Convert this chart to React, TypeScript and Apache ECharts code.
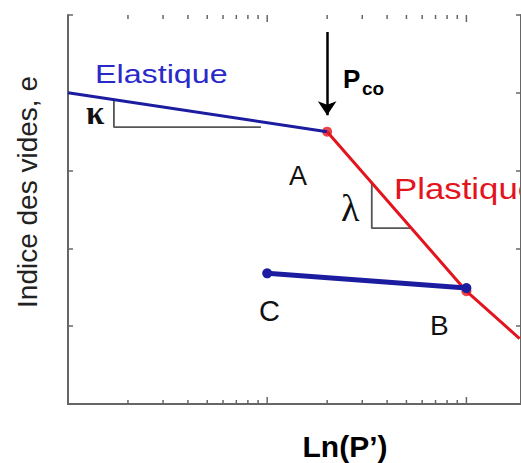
import React, { useEffect, useRef } from "react";
import * as echarts from "echarts";

// Void ratio e against effective pressure P' (log scale): loading / unloading paths
const elasticP = [1, 20];
const elasticE = [4.0, 3.5];

const plasticP = [20, 100, 185];
const plasticE = [3.5, 1.45, 0.84];

const unloadP = [10, 100];
const unloadE = [1.68, 1.49];

const yieldP = [20, 100]; // points A and B on the virgin line
const yieldE = [3.5, 1.45];

const kappaP = [1.7, 1.7, 9.3];
const kappaE = [3.91, 3.56, 3.56];

const lambdaP = [33.5, 33.5, 53];
const lambdaE = [2.84, 2.26, 2.26];

const arrowP = [20, 20];
const arrowE = [4.78, 3.71];

const majorTicks = [10, 100];
const minorTicks = [2, 3, 4, 5, 6, 7, 8, 9, 20, 30, 40, 50, 60, 70, 80, 90];

const X_MIN = 1;
const X_MAX = 188;
const Y_MIN = 0;
const Y_MAX = 5;

const BLUE = "#1c1ca0";
const BLUE_TEXT = "#2a2ac8";
const RED = "#e3141e";
const AXIS = "#666666";
const GREY = "#555555";
const SANS = "'Liberation Sans', Arial, Helvetica, sans-serif";
const SERIF = "'Liberation Serif', 'DejaVu Serif', 'Times New Roman', serif";

const zip = (xs: number[], ys: number[]) => xs.map((x, i) => [x, ys[i]]);

function label(
  text: string,
  x: number,
  y: number,
  fontSize: number,
  extra: Record<string, any> = {},
  styleExtra: Record<string, any> = {}
) {
  return {
    type: "text",
    x,
    y,
    silent: true,
    ...extra,
    style: {
      text,
      x: 0,
      y: 0,
      fontSize,
      fontFamily: SANS,
      fill: "#111111",
      align: "left",
      textAlign: "left",
      verticalAlign: "middle",
      textVerticalAlign: "middle",
      ...styleExtra,
    },
  };
}

export default function App() {
  const ref = useRef<HTMLDivElement>(null);

  useEffect(() => {
    if (!ref.current) return;
    const chart = echarts.init(ref.current, undefined, { renderer: "svg" });

    const tickData = [
      ...majorTicks.map((v) => [v, 1]),
      ...minorTicks.map((v) => [v, 0]),
    ].filter((d) => d[0] > X_MIN && d[0] < X_MAX);

    const xAxisBase = {
      type: "log",
      logBase: 10,
      min: X_MIN,
      max: X_MAX,
      axisLine: { show: true, lineStyle: { color: AXIS, width: 2 } },
      axisTick: { show: false },
      axisLabel: { show: false },
      splitLine: { show: false },
      minorTick: { show: false },
    };
    const yAxisBase = {
      type: "value",
      min: Y_MIN,
      max: Y_MAX,
      interval: 1,
      axisLine: { show: true, lineStyle: { color: AXIS, width: 2 } },
      axisTick: { show: true, inside: true, length: 5, lineStyle: { color: AXIS, width: 1.5 } },
      axisLabel: { show: false },
      splitLine: { show: false },
    };

    chart.setOption({
      animation: false,
      backgroundColor: "#ffffff",
      grid: { left: 68, top: 15, width: 455, height: 389, containLabel: false },
      xAxis: [
        { ...xAxisBase, position: "bottom" },
        { ...xAxisBase, position: "top" },
      ],
      yAxis: [
        { ...yAxisBase, position: "left" },
        { ...yAxisBase, position: "right" },
      ],
      series: [
        {
          name: "ticks",
          type: "custom",
          silent: true,
          data: tickData,
          renderItem: (_params: any, api: any) => {
            const v = api.value(0);
            const len = api.value(1) ? 7 : 4;
            const b = api.coord([v, Y_MIN]);
            const t = api.coord([v, Y_MAX]);
            const style = { stroke: AXIS, lineWidth: 1.5 };
            return {
              type: "group",
              children: [
                { type: "line", shape: { x1: b[0], y1: b[1], x2: b[0], y2: b[1] - len }, style },
                { type: "line", shape: { x1: t[0], y1: t[1], x2: t[0], y2: t[1] + len }, style },
              ],
            };
          },
        },
        {
          name: "kappa",
          type: "line",
          data: zip(kappaP, kappaE),
          symbol: "none",
          lineStyle: { color: GREY, width: 1.8 },
          silent: true,
        },
        {
          name: "lambda",
          type: "line",
          data: zip(lambdaP, lambdaE),
          symbol: "none",
          lineStyle: { color: GREY, width: 1.8 },
          silent: true,
        },
        {
          name: "Elastique",
          type: "line",
          data: zip(elasticP, elasticE),
          symbol: "none",
          lineStyle: { color: BLUE, width: 3 },
        },
        {
          name: "Plastique",
          type: "line",
          data: zip(plasticP, plasticE),
          symbol: "none",
          lineStyle: { color: RED, width: 3 },
        },
        {
          name: "C-B",
          type: "line",
          data: zip(unloadP, unloadE),
          symbol: "circle",
          symbolSize: 10,
          showAllSymbol: true,
          itemStyle: { color: BLUE },
          lineStyle: { color: BLUE, width: 5 },
        },
        {
          name: "A-B",
          type: "scatter",
          data: zip(yieldP, yieldE),
          symbol: "circle",
          symbolSize: 10,
          itemStyle: { color: RED },
        },
        {
          name: "Pco",
          type: "lines",
          coordinateSystem: "cartesian2d",
          polyline: false,
          symbol: ["none", "arrow"],
          symbolSize: 14,
          lineStyle: { color: "#000000", width: 2.5, opacity: 1 },
          data: [{ coords: zip(arrowP, arrowE) }],
          silent: true,
        },
      ],
      graphic: [
        label("Elastique", 95, 74, 25, { scaleX: 1.29 }, { fill: BLUE_TEXT }),
        label("Plastique", 394, 189, 29, { scaleX: 1.2 }, { fill: RED }),
        label("A", 289, 176, 27),
        label("B", 430, 325, 28),
        label("C", 259, 311, 29),
        label("P", 343, 79, 26, {}, { fontWeight: "bold", fill: "#000000" }),
        label("co", 362, 88, 19, {}, { fontWeight: "bold", fill: "#000000" }),
        label("κ", 86, 113, 33, {}, { fontFamily: SERIF, fontWeight: "bold", fill: "#111111" }),
        label("λ", 341, 208, 38, {}, { fontFamily: SERIF, fill: "#111111" }),
        label("Ln(P’)", 345, 446, 30, {}, {
          fontWeight: "bold",
          fill: "#000000",
          align: "center",
          textAlign: "center",
        }),
        label("Indice des vides, e", 27, 192, 28, { rotation: Math.PI / 2 }, {
          fill: "#222222",
          align: "center",
          textAlign: "center",
        }),
      ],
    });

    return () => chart.dispose();
  }, []);

  return (
    <div
      ref={ref}
      style={{ position: "fixed", left: 0, top: 0, width: 521, height: 463, background: "#fff" }}
    />
  );
}
